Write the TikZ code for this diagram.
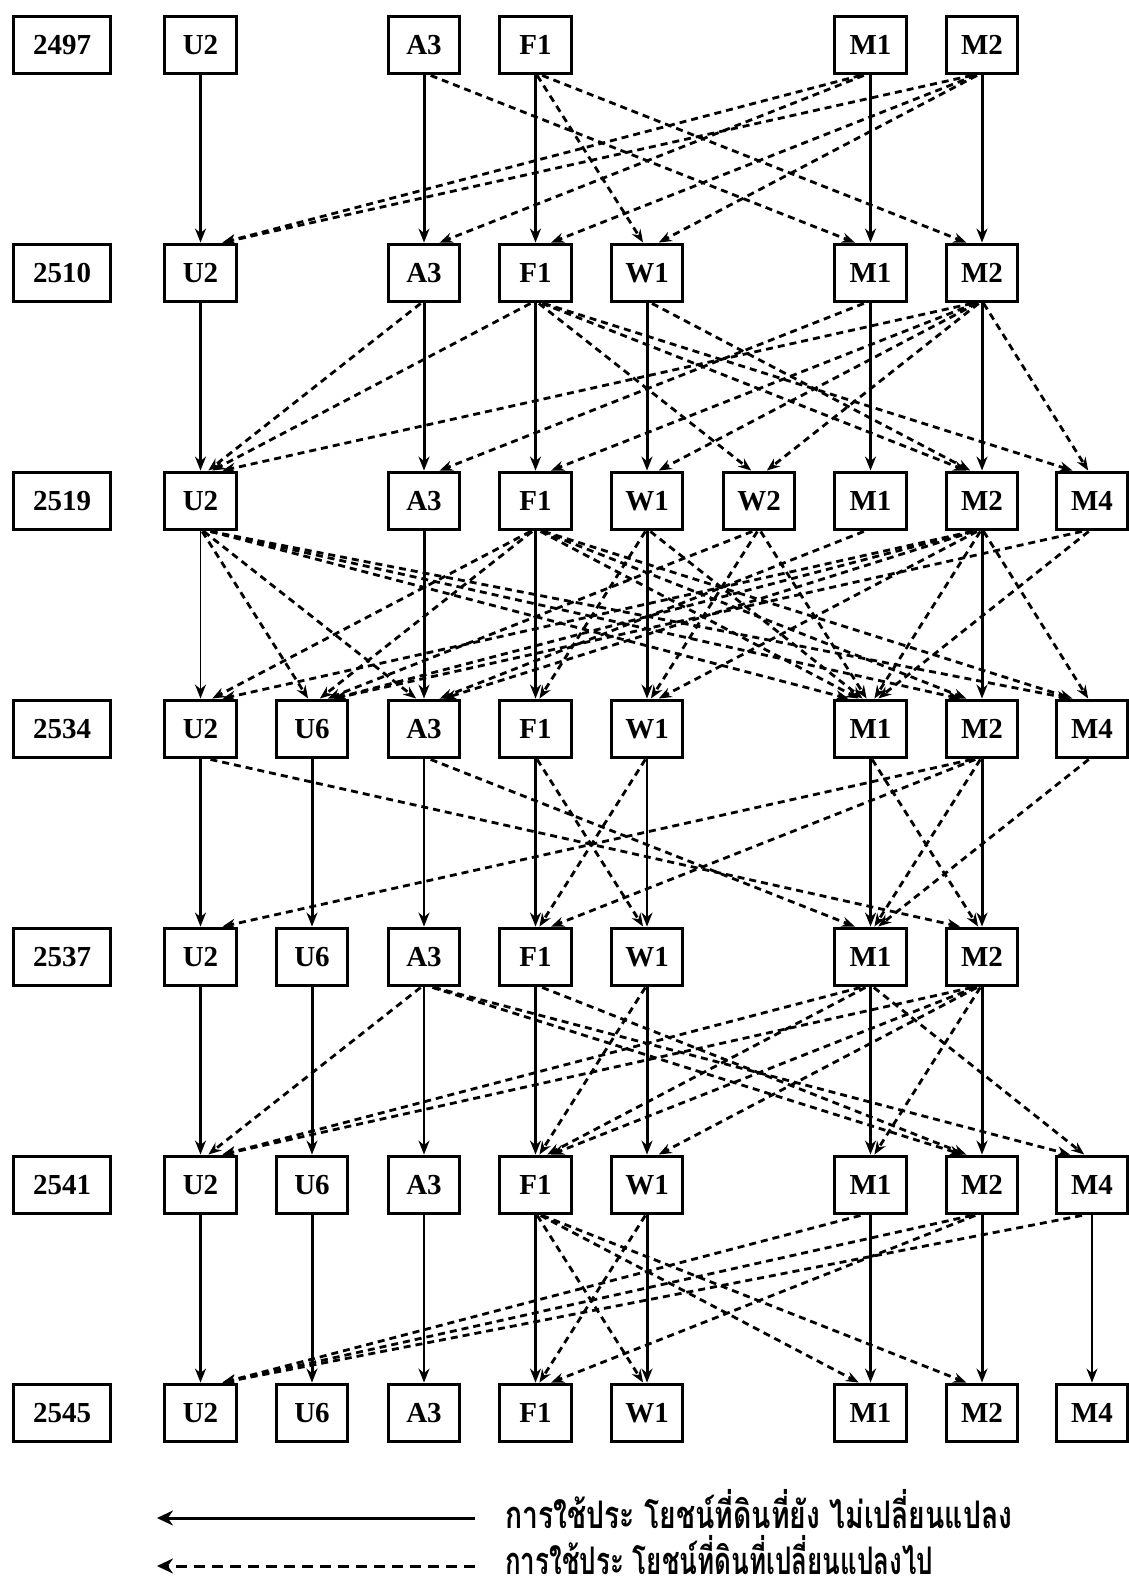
\documentclass[tikz,border=0pt]{standalone}
\usepackage{fontspec}
\setmainfont{Liberation Serif}
\newfontfamily\thaifont[Script=Thai]{Loma}
\usetikzlibrary{arrows.meta,calc}
\tikzset{
  lu/.style={draw, line width=3.4pt, minimum width=71.5pt, minimum height=57.5pt, inner sep=0pt,
             font=\fontsize{29}{30}\selectfont\bfseries},
  yr/.style={lu, minimum width=96.5pt},
  sl/.style={line width=3pt, -{Stealth[length=14pt,width=11pt]}},
  slt/.style={sl, line width=1.8pt},
  dl/.style={line width=2.8pt, dash pattern=on 7pt off 5pt, -{Stealth[length=13pt,width=10pt]}},
  legs/.style={line width=3pt, -{Stealth[length=16pt,width=15pt]}},
  legd/.style={line width=3pt, dash pattern=on 11pt off 7pt, -{Stealth[length=16pt,width=15pt]}},
  legt/.style={anchor=base west, inner sep=0pt, font=\thaifont\bfseries\fontsize{38}{40}\selectfont}
}
\newcommand{\dcon}[2]{%
  \draw[dl] let \p1=(#1.south), \p2=(#2.north),
    \n1={max(-10,min(10,0.015*(\x2-\x1)))},
    \n2={max(-22,min(22,0.035*(\x1-\x2)))} in
    (\x1+\n1*1pt,\y1) -- (\x2+\n2*1pt,\y2);}
\begin{document}
\begin{tikzpicture}[x=1pt,y=1pt]
\fill[white] (0,0) rectangle (1129,-1591);
\useasboundingbox (0,0) rectangle (1129,-1591);
% year boxes
\foreach \yy/\yv in {2497/-45, 2510/-273, 2519/-501, 2534/-729, 2537/-957, 2541/-1185, 2545/-1413}
  \node[yr] (y\yy) at (62,\yv) {\yy};
% rows
\foreach \n/\xx in {U2/200.5, A3/424, F1/535.5, M1/870.5, M2/982}
  \node[lu] (\n-1) at (\xx,-45) {\n};
\foreach \n/\xx in {U2/200.5, A3/424, F1/535.5, W1/647, M1/870.5, M2/982}
  \node[lu] (\n-2) at (\xx,-273) {\n};
\foreach \n/\xx in {U2/200.5, A3/424, F1/535.5, W1/647, W2/759, M1/870.5, M2/982, M4/1092}
  \node[lu] (\n-3) at (\xx,-501) {\n};
\foreach \n/\xx in {U2/200.5, U6/312, A3/424, F1/535.5, W1/647, M1/870.5, M2/982, M4/1092}
  \node[lu] (\n-4) at (\xx,-729) {\n};
\foreach \n/\xx in {U2/200.5, U6/312, A3/424, F1/535.5, W1/647, M1/870.5, M2/982}
  \node[lu] (\n-5) at (\xx,-957) {\n};
\foreach \n/\xx in {U2/200.5, U6/312, A3/424, F1/535.5, W1/647, M1/870.5, M2/982, M4/1092}
  \node[lu] (\n-6) at (\xx,-1185) {\n};
\foreach \n/\xx in {U2/200.5, U6/312, A3/424, F1/535.5, W1/647, M1/870.5, M2/982, M4/1092}
  \node[lu] (\n-7) at (\xx,-1413) {\n};
% 2497 -> 2510
\foreach \n in {U2,A3,F1,M1,M2} \draw[sl] (\n-1.south) -- (\n-2.north);
\foreach \a/\b in {A3/M1, F1/W1, F1/M2, M1/U2, M1/A3, M2/U2, M2/F1, M2/W1}
  \dcon{\a-1}{\b-2};
% 2510 -> 2519
\foreach \n in {U2,A3,F1,W1,M1,M2} \draw[sl] (\n-2.south) -- (\n-3.north);
\foreach \a/\b in {A3/U2, F1/U2, F1/W2, F1/M2, F1/M4, W1/M2, M1/A3, M2/U2, M2/F1, M2/W1, M2/W2, M2/M4}
  \dcon{\a-2}{\b-3};
% 2519 -> 2534
\draw[slt] (U2-3.south) -- (U2-4.north);
\foreach \n in {A3,F1,W1,M2} \draw[sl] (\n-3.south) -- (\n-4.north);
\foreach \a/\b in {U2/U6, U2/A3, U2/M1, U2/M2, U2/M4, F1/U2, F1/U6, F1/M1, F1/M2, F1/M4,
                   W1/F1, W1/M1, W2/U6, W2/W1, W2/M1, M1/A3, M2/U2, M2/U6, M2/A3, M2/W1,
                   M2/M1, M2/M4, M4/U6, M4/M1}
  \dcon{\a-3}{\b-4};
% 2534 -> 2537
\foreach \n in {U2,U6,F1,M1,M2} \draw[sl] (\n-4.south) -- (\n-5.north);
\foreach \n in {A3,W1} \draw[slt] (\n-4.south) -- (\n-5.north);
\foreach \a/\b in {U2/M2, A3/M1, F1/W1, W1/F1, M1/M2, M2/M1, M2/U2, M2/F1, M4/M1}
  \dcon{\a-4}{\b-5};
% 2537 -> 2541
\foreach \n in {U2,U6,F1,W1,M1,M2} \draw[sl] (\n-5.south) -- (\n-6.north);
\draw[slt] (A3-5.south) -- (A3-6.north);
\foreach \a/\b in {A3/U2, A3/M2, A3/M4, F1/M2, W1/F1, M1/U2, M1/F1, M1/M4, M2/U2, M2/F1, M2/W1, M2/M1}
  \dcon{\a-5}{\b-6};
% 2541 -> 2545
\foreach \n in {U2,U6,F1,W1,M1,M2} \draw[sl] (\n-6.south) -- (\n-7.north);
\foreach \n in {A3,M4} \draw[slt] (\n-6.south) -- (\n-7.north);
\foreach \a/\b in {F1/W1, W1/F1, F1/M1, F1/M2, M1/U2, M2/U2, M4/U2, M2/F1}
  \dcon{\a-6}{\b-7};
% legend
\coordinate (ls0) at (157,-1518);
\coordinate (ls1) at (475,-1518);
\coordinate (ld0) at (157,-1566);
\coordinate (ld1) at (475,-1566);
\draw[legs] (ls1) -- (ls0);
\draw[legd] (ld1) -- (ld0);
\node[legt] (lt1) at (505,-1528) {\resizebox{507pt}{\height}{การใช้ประ โยชน์ที่ดินที่ยัง ไม่เปลี่ยนแปลง}};
\node[legt] (lt2) at (505,-1574) {\resizebox{428pt}{\height}{การใช้ประ โยชน์ที่ดินที่เปลี่ยนแปลงไป}};
\end{tikzpicture}
\end{document}
